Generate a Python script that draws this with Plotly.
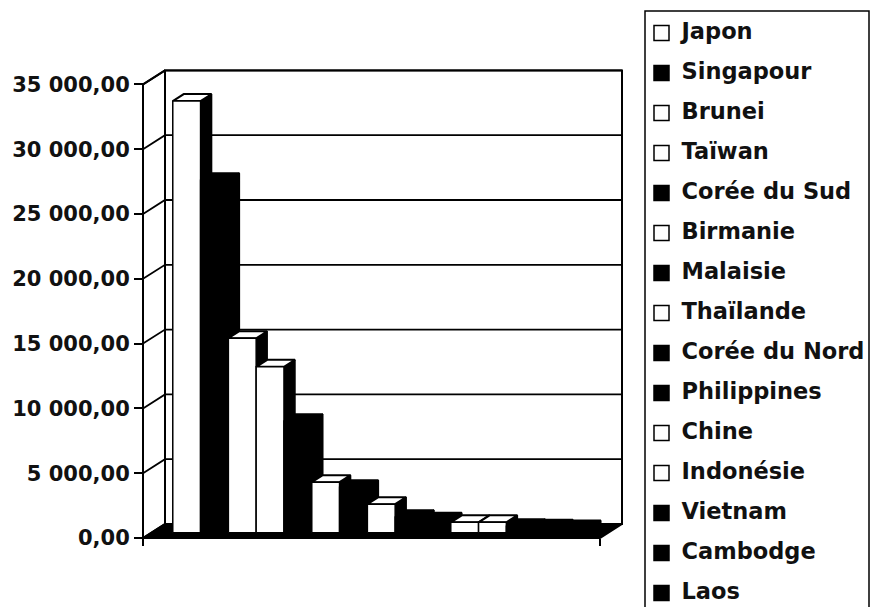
import plotly.graph_objects as go

# Series (one bar per country) and their values
countries = ["Japon", "Singapour", "Brunei", "Taïwan", "Corée du Sud", "Birmanie",
             "Malaisie", "Thaïlande", "Corée du Nord", "Philippines", "Chine",
             "Indonésie", "Vietnam", "Cambodge", "Laos"]
values = [33300, 27200, 15000, 12800, 8600, 3900, 3500, 2200, 1200, 1000,
          800, 800, 500, 450, 400]
fills = ["white", "black", "white", "white", "black", "white", "black", "white",
         "black", "black", "white", "white", "black", "black", "black"]
tick_values = [0, 5000, 10000, 15000, 20000, 25000, 30000, 35000]

W, H = 871, 607

# Geometry of the pseudo-3D box (x in bar widths, y in value units)
W_PX = 27.8                # pixels per bar width
V_PX = 0.01296             # pixels per value unit
FLOOR_LEN = 457 / W_PX     # front edge length of the floor
DEPTH_X = 22 / W_PX        # depth offset of the back wall
DEPTH_Y = 14 / V_PX
GAP = 0.77                 # gap before the first bar
F_FRONT, F_BACK = 0.38, 0.88
Y_MAX = tick_values[-1]

fig = go.Figure()


def poly(xs, ys, fill, lw=1.5):
    fig.add_trace(go.Scatter(
        x=list(xs) + [xs[0]], y=list(ys) + [ys[0]], mode="lines",
        fill="toself", fillcolor=fill, line=dict(color="black", width=lw),
        hoverinfo="skip", showlegend=False))


def line(xs, ys, lw=1.5):
    fig.add_trace(go.Scatter(x=xs, y=ys, mode="lines",
                             line=dict(color="black", width=lw),
                             hoverinfo="skip", showlegend=False))


# Back wall and left wall
poly([DEPTH_X, FLOOR_LEN + DEPTH_X, FLOOR_LEN + DEPTH_X, DEPTH_X],
     [DEPTH_Y, DEPTH_Y, Y_MAX + DEPTH_Y, Y_MAX + DEPTH_Y], "white", 2)
poly([0, DEPTH_X, DEPTH_X, 0], [0, DEPTH_Y, Y_MAX + DEPTH_Y, Y_MAX], "white", 2)
for v in tick_values[1:]:
    line([0, DEPTH_X, FLOOR_LEN + DEPTH_X], [v, v + DEPTH_Y, v + DEPTH_Y], 1.8)

# Floor
poly([0, FLOOR_LEN, FLOOR_LEN + DEPTH_X, DEPTH_X], [0, 0, DEPTH_Y, DEPTH_Y], "black", 2)

# Bars, drawn left to right so each front face hides its neighbour's side
dx0, dy0 = F_FRONT * DEPTH_X, F_FRONT * DEPTH_Y
dx1, dy1 = F_BACK * DEPTH_X, F_BACK * DEPTH_Y
for i, (v, c) in enumerate(zip(values, fills)):
    xl = GAP + i
    xr = xl + 1
    poly([xr + dx0, xr + dx1, xr + dx1, xr + dx0],
         [dy0, dy1, v + dy1, v + dy0], "black")
    poly([xl + dx0, xr + dx0, xr + dx1, xl + dx1],
         [v + dy0, v + dy0, v + dy1, v + dy1], c, 2)
    poly([xl + dx0, xr + dx0, xr + dx0, xl + dx0],
         [dy0, dy0, v + dy0, v + dy0], c)

# Front value axis line
line([0, 0], [-500, Y_MAX], 2)

# Legend panel, laid out on a pixel-unit overlay axis
LEG_X, LEG_Y0, LEG_STEP = 661.5, 33, 40
leg_y = [LEG_Y0 + LEG_STEP * i for i in range(len(countries))]
fig.add_trace(go.Scatter(
    x=[LEG_X] * len(countries), y=leg_y, mode="markers",
    marker=dict(symbol="square", size=15, color=fills,
                line=dict(color="black", width=1.5)),
    xaxis="x2", yaxis="y2", hoverinfo="skip", showlegend=False))
fig.add_trace(go.Scatter(
    x=[LEG_X + 20] * len(countries), y=leg_y, mode="text", text=countries,
    textposition="middle right",
    textfont=dict(family="DejaVu Sans", size=22.5, color="#111", weight="bold"),
    xaxis="x2", yaxis="y2", hoverinfo="skip", showlegend=False))

fig.update_layout(
    width=W, height=H, margin=dict(l=0, r=0, t=0, b=0),
    paper_bgcolor="white", plot_bgcolor="white",
    separators=", ",
    showlegend=False,
    xaxis=dict(range=[-143 / W_PX, (W - 143) / W_PX], domain=[0, 1],
               anchor="free", position=69 / H, showgrid=False, zeroline=False,
               showline=False, showticklabels=False, tickvals=[0, FLOOR_LEN],
               ticks="outside", ticklen=7, tickwidth=1.5, tickcolor="black"),
    yaxis=dict(range=[-69 / V_PX, 538 / V_PX], domain=[0, 1],
               anchor="free", position=143 / W, showgrid=False, zeroline=False,
               showline=False, tickvals=tick_values, tickformat=",.2f",
               ticks="outside", ticklen=9, tickwidth=1.5, tickcolor="black",
               tickfont=dict(family="DejaVu Sans", size=21, color="#111", weight="bold")),
    xaxis2=dict(range=[0, W], overlaying="x", visible=False),
    yaxis2=dict(range=[H, 0], overlaying="y", visible=False),
    shapes=[dict(type="rect", xref="paper", yref="paper",
                 x0=645 / W, x1=869 / W, y0=-0.05, y1=1 - 11 / H,
                 line=dict(color="black", width=1.5))],
)

fig.write_html("out.html")
